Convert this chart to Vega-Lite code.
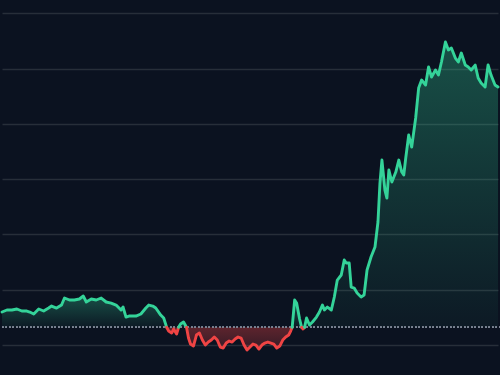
{
  "$schema": "https://vega.github.io/schema/vega-lite/v6.json",
  "width": 500,
  "height": 375,
  "autosize": {"type": "fit", "contains": "padding"},
  "padding": 0,
  "background": "#0b1220",
  "config": {"view": {"stroke": null}},
  "data": {"values": [
    {"x":0,"v":5.97,"s":"g1","d":"up"},{"x":5,"v":6.33,"s":"g1","d":"up"},{"x":10,"v":6.33,"s":"g1","d":"up"},{"x":15,"v":6.51,"s":"g1","d":"up"},{"x":20,"v":6.15,"s":"g1","d":"up"},{"x":25,"v":6.15,"s":"g1","d":"up"},{"x":28,"v":5.97,"s":"g1","d":"up"},{"x":32,"v":5.61,"s":"g1","d":"up"},{"x":37,"v":6.51,"s":"g1","d":"up"},{"x":42,"v":6.15,"s":"g1","d":"up"},{"x":47,"v":6.69,"s":"g1","d":"up"},{"x":50,"v":7.05,"s":"g1","d":"up"},{"x":55,"v":6.69,"s":"g1","d":"up"},{"x":60,"v":7.23,"s":"g1","d":"up"},{"x":63,"v":8.5,"s":"g1","d":"up"},{"x":68,"v":8.14,"s":"g1","d":"up"},{"x":73,"v":8.14,"s":"g1","d":"up"},{"x":78,"v":8.32,"s":"g1","d":"up"},{"x":82,"v":8.86,"s":"g1","d":"up"},{"x":85,"v":7.78,"s":"g1","d":"up"},{"x":90,"v":8.32,"s":"g1","d":"up"},{"x":95,"v":8.14,"s":"g1","d":"up"},{"x":100,"v":8.5,"s":"g1","d":"up"},{"x":105,"v":7.78,"s":"g1","d":"up"},{"x":110,"v":7.59,"s":"g1","d":"up"},{"x":115,"v":7.23,"s":"g1","d":"up"},{"x":120,"v":6.33,"s":"g1","d":"up"},{"x":122,"v":6.87,"s":"g1","d":"up"},{"x":125,"v":5.06,"s":"g1","d":"up"},{"x":128,"v":5.24,"s":"g1","d":"up"},{"x":135,"v":5.24,"s":"g1","d":"up"},{"x":140,"v":5.61,"s":"g1","d":"up"},{"x":145,"v":6.69,"s":"g1","d":"up"},{"x":148,"v":7.23,"s":"g1","d":"up"},{"x":152,"v":7.05,"s":"g1","d":"up"},{"x":155,"v":6.69,"s":"g1","d":"up"},{"x":160,"v":5.42,"s":"g1","d":"up"},{"x":163,"v":4.88,"s":"g1","d":"up"},{"x":166,"v":3.2,"s":"g1","d":"up"},
    {"x":166,"v":3.2,"s":"r1","d":"down"},{"x":168,"v":2.53,"s":"r1","d":"down"},{"x":171,"v":2.17,"s":"r1","d":"down"},{"x":173,"v":2.89,"s":"r1","d":"down"},{"x":176,"v":1.99,"s":"r1","d":"down"},{"x":178,"v":3.2,"s":"r1","d":"down"},
    {"x":178,"v":3.2,"s":"g2","d":"up"},{"x":180,"v":3.8,"s":"g2","d":"up"},{"x":183,"v":4.16,"s":"g2","d":"up"},{"x":186,"v":3.2,"s":"g2","d":"up"},
    {"x":186,"v":3.2,"s":"r2","d":"down"},{"x":188,"v":1.27,"s":"r2","d":"down"},{"x":190,"v":0.18,"s":"r2","d":"down"},{"x":193,"v":-0.18,"s":"r2","d":"down"},{"x":196,"v":1.81,"s":"r2","d":"down"},{"x":199,"v":2.17,"s":"r2","d":"down"},{"x":202,"v":0.9,"s":"r2","d":"down"},{"x":205,"v":0,"s":"r2","d":"down"},{"x":208,"v":0.54,"s":"r2","d":"down"},{"x":211,"v":0.9,"s":"r2","d":"down"},{"x":214,"v":1.45,"s":"r2","d":"down"},{"x":217,"v":0.9,"s":"r2","d":"down"},{"x":220,"v":-0.36,"s":"r2","d":"down"},{"x":223,"v":-0.54,"s":"r2","d":"down"},{"x":226,"v":0.36,"s":"r2","d":"down"},{"x":229,"v":0.72,"s":"r2","d":"down"},{"x":232,"v":0.54,"s":"r2","d":"down"},{"x":235,"v":1.08,"s":"r2","d":"down"},{"x":238,"v":1.45,"s":"r2","d":"down"},{"x":241,"v":1.27,"s":"r2","d":"down"},{"x":244,"v":0,"s":"r2","d":"down"},{"x":247,"v":-0.9,"s":"r2","d":"down"},{"x":250,"v":-0.36,"s":"r2","d":"down"},{"x":253,"v":0.18,"s":"r2","d":"down"},{"x":256,"v":0,"s":"r2","d":"down"},{"x":259,"v":-0.72,"s":"r2","d":"down"},{"x":262,"v":0,"s":"r2","d":"down"},{"x":265,"v":0.36,"s":"r2","d":"down"},{"x":268,"v":0.54,"s":"r2","d":"down"},{"x":271,"v":0.36,"s":"r2","d":"down"},{"x":274,"v":0.18,"s":"r2","d":"down"},{"x":277,"v":-0.54,"s":"r2","d":"down"},{"x":280,"v":-0.18,"s":"r2","d":"down"},{"x":283,"v":0.9,"s":"r2","d":"down"},{"x":286,"v":1.45,"s":"r2","d":"down"},{"x":289,"v":1.81,"s":"r2","d":"down"},{"x":291,"v":2.53,"s":"r2","d":"down"},{"x":292.5,"v":3.2,"s":"r2","d":"down"},
    {"x":292.5,"v":3.2,"s":"g3","d":"up"},{"x":295,"v":8.14,"s":"g3","d":"up"},{"x":297,"v":7.6,"s":"g3","d":"up"},{"x":300,"v":4.7,"s":"g3","d":"up"},{"x":302,"v":3.2,"s":"g3","d":"up"},
    {"x":302,"v":3.2,"s":"r3","d":"down"},{"x":303.5,"v":2.9,"s":"r3","d":"down"},{"x":305,"v":3.2,"s":"r3","d":"down"},
    {"x":305,"v":3.2,"s":"g4","d":"up"},{"x":307,"v":4.88,"s":"g4","d":"up"},{"x":310,"v":3.62,"s":"g4","d":"up"},{"x":313,"v":4.16,"s":"g4","d":"up"},{"x":317,"v":5.06,"s":"g4","d":"up"},{"x":320,"v":5.97,"s":"g4","d":"up"},{"x":323,"v":7.23,"s":"g4","d":"up"},{"x":325,"v":6.33,"s":"g4","d":"up"},{"x":328,"v":6.87,"s":"g4","d":"up"},{"x":332,"v":6.33,"s":"g4","d":"up"},{"x":335,"v":8.68,"s":"g4","d":"up"},{"x":338,"v":11.75,"s":"g4","d":"up"},{"x":342,"v":12.66,"s":"g4","d":"up"},{"x":345,"v":15.37,"s":"g4","d":"up"},{"x":347,"v":14.83,"s":"g4","d":"up"},{"x":350,"v":14.83,"s":"g4","d":"up"},{"x":352,"v":10.49,"s":"g4","d":"up"},{"x":355,"v":10.31,"s":"g4","d":"up"},{"x":358,"v":9.4,"s":"g4","d":"up"},{"x":362,"v":8.68,"s":"g4","d":"up"},{"x":365,"v":9.04,"s":"g4","d":"up"},{"x":368,"v":13.56,"s":"g4","d":"up"},{"x":372,"v":15.91,"s":"g4","d":"up"},{"x":376,"v":17.72,"s":"g4","d":"up"},{"x":379,"v":22.24,"s":"g4","d":"up"},{"x":381,"v":29.29,"s":"g4","d":"up"},{"x":383,"v":33.45,"s":"g4","d":"up"},{"x":386,"v":28.0,"s":"g4","d":"up"},{"x":388,"v":26.58,"s":"g4","d":"up"},{"x":390,"v":31.65,"s":"g4","d":"up"},{"x":393,"v":29.48,"s":"g4","d":"up"},{"x":397,"v":31.28,"s":"g4","d":"up"},{"x":400,"v":33.45,"s":"g4","d":"up"},{"x":403,"v":31.28,"s":"g4","d":"up"},{"x":405,"v":30.74,"s":"g4","d":"up"},{"x":407,"v":33.82,"s":"g4","d":"up"},{"x":410,"v":37.97,"s":"g4","d":"up"},{"x":413,"v":35.8,"s":"g4","d":"up"},{"x":417,"v":41.05,"s":"g4","d":"up"},{"x":420,"v":46.47,"s":"g4","d":"up"},{"x":423,"v":47.92,"s":"g4","d":"up"},{"x":427,"v":47.02,"s":"g4","d":"up"},{"x":430,"v":50.27,"s":"g4","d":"up"},{"x":433,"v":48.46,"s":"g4","d":"up"},{"x":437,"v":49.73,"s":"g4","d":"up"},{"x":440,"v":48.82,"s":"g4","d":"up"},{"x":443,"v":51.18,"s":"g4","d":"up"},{"x":447,"v":54.79,"s":"g4","d":"up"},{"x":450,"v":53.35,"s":"g4","d":"up"},{"x":453,"v":53.71,"s":"g4","d":"up"},{"x":457,"v":51.9,"s":"g4","d":"up"},{"x":460,"v":51.18,"s":"g4","d":"up"},{"x":463,"v":52.8,"s":"g4","d":"up"},{"x":467,"v":50.63,"s":"g4","d":"up"},{"x":470,"v":50.27,"s":"g4","d":"up"},{"x":473,"v":49.73,"s":"g4","d":"up"},{"x":477,"v":50.63,"s":"g4","d":"up"},{"x":480,"v":48.28,"s":"g4","d":"up"},{"x":483,"v":47.38,"s":"g4","d":"up"},{"x":487,"v":46.65,"s":"g4","d":"up"},{"x":490,"v":50.63,"s":"g4","d":"up"},{"x":493,"v":48.82,"s":"g4","d":"up"},{"x":497,"v":47.02,"s":"g4","d":"up"},{"x":500,"v":46.65,"s":"g4","d":"up"}
  ]},
  "encoding": {
    "x": {"field": "x", "type": "quantitative", "scale": {"domain": [0, 500], "nice": false, "zero": false}, "axis": null},
    "y": {"field": "v", "type": "quantitative", "scale": {"domain": [-5.42, 62.39], "nice": false, "zero": false},
      "axis": {"values": [0, 10, 20, 30, 40, 50, 60], "labels": false, "ticks": false, "domain": false, "title": null, "grid": true, "gridColor": "#272e39", "gridWidth": 1.5}}
  },
  "layer": [
    {
      "transform": [{"filter": "datum.d === 'up'"}],
      "mark": {"type": "area", "fill": {"gradient": "linear", "x1": 0, "y1": 0, "x2": 0, "y2": 1, "stops": [{"offset": 0, "color": "rgba(52,211,153,0.32)"}, {"offset": 1, "color": "rgba(52,211,153,0.04)"}]}},
      "encoding": {"y2": {"datum": 3.2}, "detail": {"field": "s"}}
    },
    {
      "transform": [{"filter": "datum.d === 'down'"}],
      "mark": {"type": "area", "fill": {"gradient": "linear", "x1": 0, "y1": 0, "x2": 0, "y2": 1, "stops": [{"offset": 0, "color": "rgba(239,68,68,0.36)"}, {"offset": 1, "color": "rgba(239,68,68,0.18)"}]}},
      "encoding": {"y2": {"datum": 3.2}, "detail": {"field": "s"}}
    },
    {
      "mark": {"type": "rule", "strokeDash": [1.5, 2], "strokeWidth": 1, "color": "#7c8594"},
      "encoding": {"y": {"datum": 3.2}, "x": {"value": 0}, "x2": {"value": 500}}
    },
    {
      "mark": {"type": "line", "strokeWidth": 2.9, "strokeCap": "round", "strokeJoin": "round"},
      "encoding": {
        "color": {"field": "d", "type": "nominal", "scale": {"domain": ["up", "down"], "range": ["#34d399", "#ef4444"]}, "legend": null},
        "detail": {"field": "s"}
      }
    }
  ]
}
